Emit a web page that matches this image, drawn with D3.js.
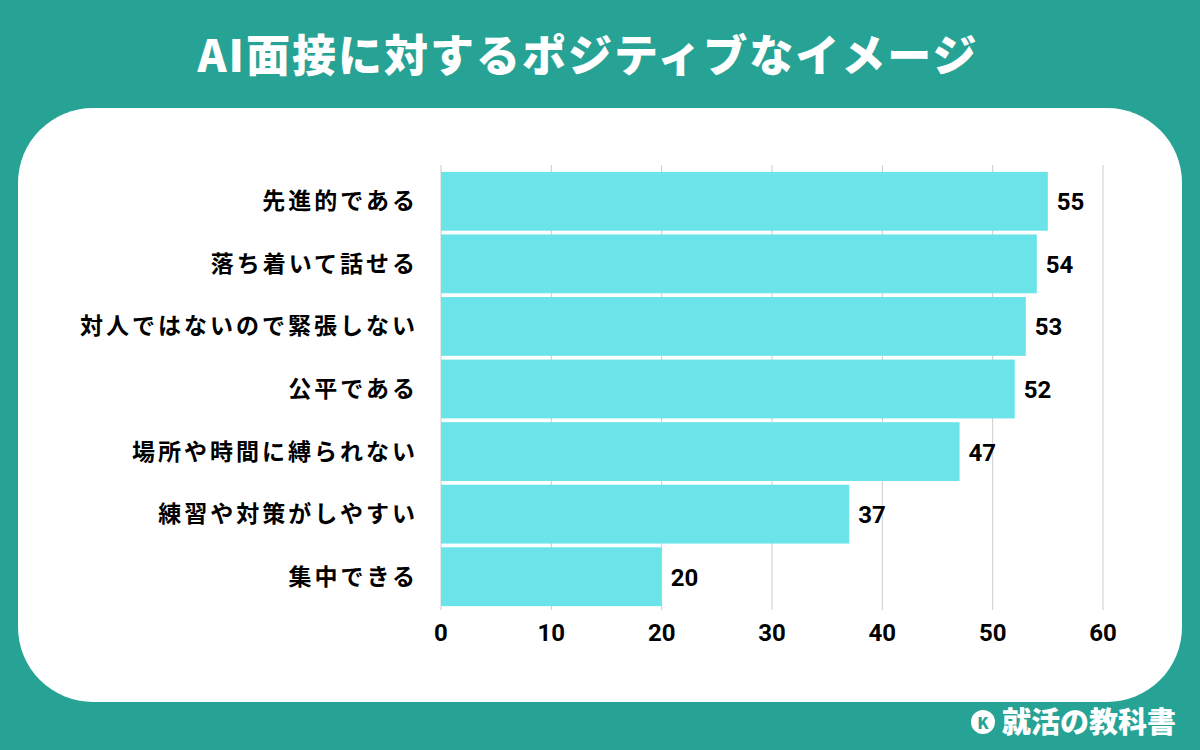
<!DOCTYPE html><html><head><meta charset="utf-8"><script src="https://cdn.jsdelivr.net/npm/d3@7"></script>
<style>body{margin:0}svg{display:block;font-family:"Noto Sans CJK JP",sans-serif}</style></head><body><svg width="1200" height="750"></svg><script>
const categories=["先進的である","落ち着いて話せる","対人ではないので緊張しない","公平である","場所や時間に縛られない","練習や対策がしやすい","集中できる"];
const values=[55,54,53,52,47,37,20];
const ticks=[0,10,20,30,40,50,60];
const svg=d3.select("svg");
svg.append("rect").attr("width",1200).attr("height",750).attr("fill","#27a396");
svg.append("text").attr("x",588).attr("y",72).attr("text-anchor","middle").attr("fill","#fff").attr("font-size",44).attr("letter-spacing",2).attr("font-weight",900).text("AI面接に対するポジティブなイメージ");
svg.append("rect").attr("x",18).attr("y",108).attr("width",1164).attr("height",594).attr("rx",75).attr("fill","#fff");
const x=d3.scaleLinear().domain([0,60]).range([441,1103]);
const y=d3.scaleBand().domain(categories).range([170,608]).paddingInner(0.06).paddingOuter(0.03);
svg.append("g").selectAll("line").data(ticks).join("line").attr("x1",d=>x(d)).attr("x2",d=>x(d)).attr("y1",165).attr("y2",610).attr("stroke","#cccccc").attr("stroke-width",1);
svg.append("g").selectAll("rect").data(values).join("rect").attr("x",x(0)).attr("y",(d,i)=>y(categories[i])).attr("width",d=>x(d)-x(0)).attr("height",y.bandwidth()).attr("fill","#6ae4e8");
svg.append("g").selectAll("text").data(values).join("text").attr("x",d=>x(d)+9).attr("y",(d,i)=>y(categories[i])+y.bandwidth()/2+9).attr("font-size",24).attr("font-weight",700).attr("font-family","Roboto,sans-serif").text(d=>d);
svg.append("g").selectAll("text").data(categories).join("text").attr("x",418).attr("y",d=>y(d)+y.bandwidth()/2+8).attr("text-anchor","end").attr("font-size",23).attr("letter-spacing",3).attr("font-weight",700).text(d=>d);
svg.append("g").selectAll("text").data(ticks).join("text").attr("x",d=>x(d)).attr("y",641).attr("text-anchor","middle").attr("font-size",24).attr("font-weight",700).attr("font-family","Roboto,sans-serif").text(d=>d);
const lg=svg.append("g");
lg.append("circle").attr("cx",983).attr("cy",722).attr("r",12).attr("fill","#fff");
lg.append("text").attr("x",983).attr("y",729).attr("text-anchor","middle").attr("font-size",16).attr("font-weight",900).attr("fill","#27a396").text("K");
lg.append("text").attr("x",1002).attr("y",733).attr("fill","#fff").attr("font-size",29).attr("font-weight",900).text("就活の教科書");
</script></body></html>
